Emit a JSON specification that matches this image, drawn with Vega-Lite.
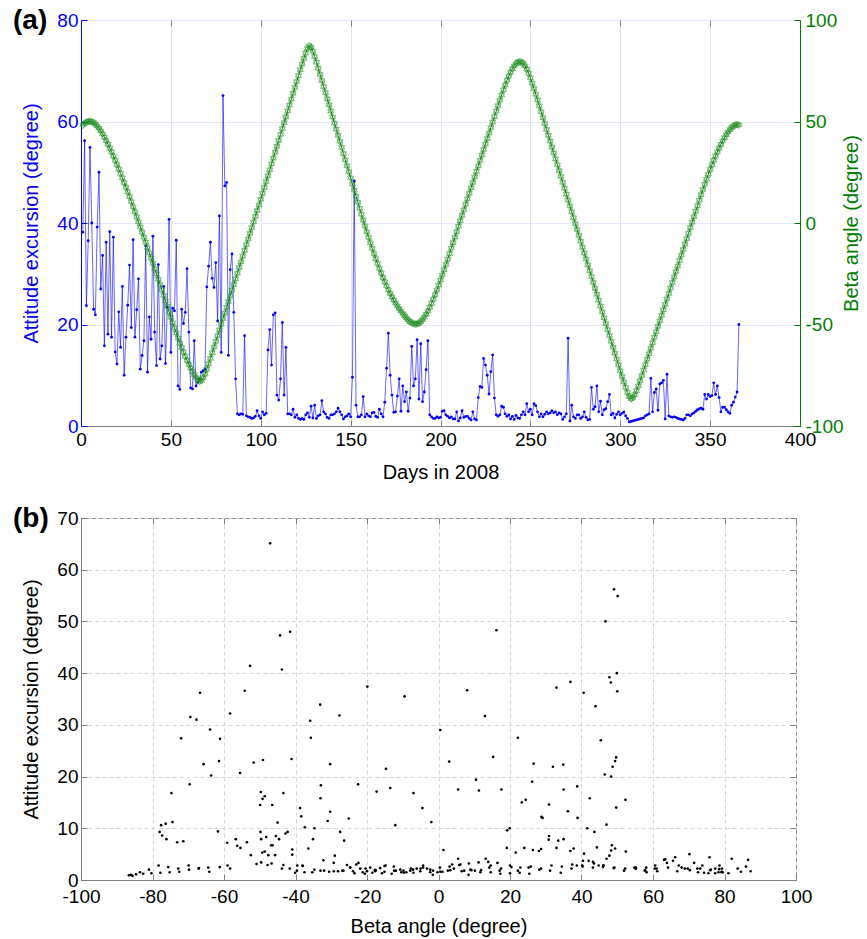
{
"$schema": "https://vega.github.io/schema/vega-lite/v6.json",
"background": "white",
"padding": {"left": 12, "top": 6, "right": 0, "bottom": 0},
"spacing": 21,
"data": {"values": [
{"d":1,"e":38.2,"b":48.2},{"d":2,"e":56.2,"b":49.1},{"d":3,"e":23.7,"b":49.7},{"d":4,"e":36.5,"b":50.0},{"d":5,"e":54.9,"b":50.1},{"d":6,"e":40.0,"b":49.9},{"d":7,"e":23.0,"b":49.4},{"d":8,"e":21.9,"b":48.7},{"d":9,"e":39.2,"b":47.8},{"d":10,"e":50.0,"b":46.7},
{"d":11,"e":27.0,"b":45.4},{"d":12,"e":33.6,"b":43.9},{"d":13,"e":15.8,"b":42.3},{"d":14,"e":36.2,"b":40.6},{"d":15,"e":18.1,"b":38.8},{"d":16,"e":38.3,"b":36.9},{"d":17,"e":17.5,"b":35.0},{"d":18,"e":37.2,"b":33.0},{"d":19,"e":14.6,"b":30.9},{"d":20,"e":12.2,"b":28.8},
{"d":21,"e":22.5,"b":26.6},{"d":22,"e":15.5,"b":24.4},{"d":23,"e":27.5,"b":22.2},{"d":24,"e":10.0,"b":19.9},{"d":25,"e":17.5,"b":17.6},{"d":26,"e":23.8,"b":15.3},{"d":27,"e":31.7,"b":13.0},{"d":28,"e":19.4,"b":10.5},{"d":29,"e":36.7,"b":8.0},{"d":30,"e":17.5,"b":5.5},
{"d":31,"e":22.9,"b":3.0},{"d":32,"e":29.0,"b":0.5},{"d":33,"e":11.2,"b":-2.0},{"d":34,"e":13.9,"b":-4.5},{"d":35,"e":16.8,"b":-7.0},{"d":36,"e":35.5,"b":-9.5},{"d":37,"e":10.6,"b":-12.1},{"d":38,"e":21.5,"b":-14.7},{"d":39,"e":17.1,"b":-17.3},{"d":40,"e":37.4,"b":-19.9},
{"d":41,"e":18.5,"b":-22.5},{"d":42,"e":11.9,"b":-25.1},{"d":43,"e":31.8,"b":-27.7},{"d":44,"e":13.2,"b":-30.3},{"d":45,"e":15.8,"b":-33.0},{"d":46,"e":27.5,"b":-35.7},{"d":47,"e":12.3,"b":-38.4},{"d":48,"e":23.4,"b":-41.1},{"d":49,"e":40.7,"b":-43.8},{"d":50,"e":14.5,"b":-46.5},
{"d":51,"e":23.2,"b":-49.1},{"d":52,"e":22.7,"b":-51.7},{"d":53,"e":36.6,"b":-54.2},{"d":54,"e":7.9,"b":-56.7},{"d":55,"e":7.2,"b":-59.1},{"d":56,"e":23.0,"b":-61.4},{"d":57,"e":20.2,"b":-63.6},{"d":58,"e":22.4,"b":-65.7},{"d":59,"e":31.0,"b":-67.7},{"d":60,"e":18.5,"b":-69.6},
{"d":61,"e":7.5,"b":-71.4},{"d":62,"e":7.3,"b":-73.1},{"d":63,"e":16.8,"b":-74.7},{"d":64,"e":7.9,"b":-76.1},{"d":65,"e":8.6,"b":-77.3},{"d":66,"e":9.3,"b":-78.0},{"d":67,"e":10.6,"b":-77.6},{"d":68,"e":10.9,"b":-76.3},{"d":69,"e":11.2,"b":-74.4},{"d":70,"e":27.4,"b":-72.0},
{"d":71,"e":31.5,"b":-69.4},{"d":72,"e":36.2,"b":-66.7},{"d":73,"e":29.1,"b":-63.9},{"d":74,"e":27.3,"b":-61.1},{"d":75,"e":32.2,"b":-58.3},{"d":76,"e":20.7,"b":-55.5},{"d":77,"e":41.4,"b":-52.7},{"d":78,"e":14.5,"b":-49.9},{"d":79,"e":65.1,"b":-47.1},{"d":80,"e":47.3,"b":-44.3},
{"d":81,"e":48.0,"b":-41.5},{"d":82,"e":13.9,"b":-38.7},{"d":83,"e":30.8,"b":-35.9},{"d":84,"e":33.9,"b":-33.1},{"d":85,"e":22.4,"b":-30.3},{"d":86,"e":9.3,"b":-27.5},{"d":87,"e":2.4,"b":-24.7},{"d":88,"e":2.2,"b":-21.9},{"d":89,"e":2.4,"b":-19.1},{"d":90,"e":2.3,"b":-16.3},
{"d":91,"e":17.8,"b":-13.5},{"d":92,"e":2.0,"b":-10.7},{"d":93,"e":1.8,"b":-7.9},{"d":94,"e":1.7,"b":-5.1},{"d":95,"e":1.5,"b":-2.3},{"d":96,"e":1.6,"b":0.5},{"d":97,"e":1.9,"b":3.3},{"d":98,"e":3.0,"b":6.1},{"d":99,"e":2.0,"b":8.9},{"d":100,"e":1.5,"b":11.7},
{"d":101,"e":2.8,"b":14.6},{"d":102,"e":2.2,"b":17.5},{"d":103,"e":2.5,"b":20.4},{"d":104,"e":15.0,"b":23.3},{"d":105,"e":19.0,"b":26.2},{"d":106,"e":12.0,"b":29.1},{"d":107,"e":21.9,"b":32.0},{"d":108,"e":22.3,"b":34.9},{"d":109,"e":6.1,"b":37.8},{"d":110,"e":5.1,"b":40.7},
{"d":111,"e":9.3,"b":43.6},{"d":112,"e":20.4,"b":46.5},{"d":113,"e":6.1,"b":49.4},{"d":114,"e":15.5,"b":52.3},{"d":115,"e":2.4,"b":55.2},{"d":116,"e":2.4,"b":58.1},{"d":117,"e":2.2,"b":61.0},{"d":118,"e":3.3,"b":63.9},{"d":119,"e":1.7,"b":66.8},{"d":120,"e":2.2,"b":69.7},
{"d":121,"e":1.5,"b":72.6},{"d":122,"e":1.3,"b":75.5},{"d":123,"e":1.5,"b":78.3},{"d":124,"e":1.3,"b":81.1},{"d":125,"e":2.2,"b":83.7},{"d":126,"e":2.6,"b":86.0},{"d":127,"e":1.7,"b":87.3},{"d":128,"e":3.9,"b":86.6},{"d":129,"e":1.6,"b":84.6},{"d":130,"e":4.1,"b":82.0},
{"d":131,"e":1.5,"b":79.2},{"d":132,"e":2.0,"b":76.2},{"d":133,"e":2.2,"b":73.2},{"d":134,"e":5.0,"b":70.2},{"d":135,"e":2.8,"b":67.2},{"d":136,"e":2.4,"b":64.2},{"d":137,"e":1.7,"b":61.2},{"d":138,"e":1.5,"b":58.2},{"d":139,"e":2.2,"b":55.2},{"d":140,"e":2.2,"b":52.2},
{"d":141,"e":2.4,"b":49.2},{"d":142,"e":2.8,"b":46.2},{"d":143,"e":3.5,"b":43.2},{"d":144,"e":2.8,"b":40.2},{"d":145,"e":2.2,"b":37.2},{"d":146,"e":1.4,"b":34.2},{"d":147,"e":1.8,"b":31.2},{"d":148,"e":2.0,"b":28.2},{"d":149,"e":2.4,"b":25.2},{"d":150,"e":1.8,"b":22.2},
{"d":151,"e":9.6,"b":19.2},{"d":152,"e":48.3,"b":16.2},{"d":153,"e":4.1,"b":13.2},{"d":154,"e":1.8,"b":10.2},{"d":155,"e":1.8,"b":7.2},{"d":156,"e":2.2,"b":4.3},{"d":157,"e":5.8,"b":1.4},{"d":158,"e":1.8,"b":-1.5},{"d":159,"e":2.4,"b":-4.3},{"d":160,"e":2.0,"b":-7.1},
{"d":161,"e":1.8,"b":-9.8},{"d":162,"e":2.6,"b":-12.5},{"d":163,"e":2.7,"b":-15.1},{"d":164,"e":1.9,"b":-17.6},{"d":165,"e":1.7,"b":-20.0},{"d":166,"e":3.3,"b":-22.4},{"d":167,"e":2.4,"b":-24.7},{"d":168,"e":1.8,"b":-26.9},{"d":169,"e":4.7,"b":-29.0},{"d":170,"e":11.4,"b":-31.0},
{"d":171,"e":18.3,"b":-32.9},{"d":172,"e":10.0,"b":-34.7},{"d":173,"e":6.1,"b":-36.4},{"d":174,"e":2.7,"b":-38.0},{"d":175,"e":2.8,"b":-39.5},{"d":176,"e":5.9,"b":-40.9},{"d":177,"e":9.3,"b":-42.2},{"d":178,"e":2.9,"b":-43.4},{"d":179,"e":7.9,"b":-44.6},{"d":180,"e":4.8,"b":-45.7},
{"d":181,"e":6.7,"b":-46.8},{"d":182,"e":2.9,"b":-47.8},{"d":183,"e":5.5,"b":-48.6},{"d":184,"e":15.7,"b":-49.2},{"d":185,"e":7.9,"b":-49.6},{"d":186,"e":9.3,"b":-49.8},{"d":187,"e":17.0,"b":-49.7},{"d":188,"e":5.3,"b":-49.3},{"d":189,"e":16.2,"b":-48.6},{"d":190,"e":4.8,"b":-47.6},
{"d":191,"e":6.7,"b":-46.4},{"d":192,"e":11.1,"b":-45.0},{"d":193,"e":16.8,"b":-43.4},{"d":194,"e":2.2,"b":-41.6},{"d":195,"e":1.8,"b":-39.6},{"d":196,"e":1.5,"b":-37.5},{"d":197,"e":1.5,"b":-35.3},{"d":198,"e":1.8,"b":-33.0},{"d":199,"e":1.6,"b":-30.6},{"d":200,"e":1.7,"b":-28.1},
{"d":201,"e":2.9,"b":-25.6},{"d":202,"e":3.0,"b":-23.0},{"d":203,"e":2.2,"b":-20.4},{"d":204,"e":1.9,"b":-17.8},{"d":205,"e":1.6,"b":-15.1},{"d":206,"e":1.8,"b":-12.4},{"d":207,"e":1.4,"b":-9.7},{"d":208,"e":1.4,"b":-7.0},{"d":209,"e":2.8,"b":-4.3},{"d":210,"e":1.0,"b":-1.6},
{"d":211,"e":1.6,"b":1.1},{"d":212,"e":3.0,"b":3.8},{"d":213,"e":1.7,"b":6.5},{"d":214,"e":1.9,"b":9.2},{"d":215,"e":1.9,"b":11.9},{"d":216,"e":1.5,"b":14.6},{"d":217,"e":1.2,"b":17.3},{"d":218,"e":2.8,"b":20.0},{"d":219,"e":1.4,"b":22.7},{"d":220,"e":1.2,"b":25.4},
{"d":221,"e":5.6,"b":28.1},{"d":222,"e":7.8,"b":30.8},{"d":223,"e":7.6,"b":33.5},{"d":224,"e":13.3,"b":36.2},{"d":225,"e":12.0,"b":38.9},{"d":226,"e":10.0,"b":41.6},{"d":227,"e":6.3,"b":44.3},{"d":228,"e":10.7,"b":47.0},{"d":229,"e":14.0,"b":49.7},{"d":230,"e":5.5,"b":52.4},
{"d":231,"e":2.2,"b":55.1},{"d":232,"e":1.9,"b":57.8},{"d":233,"e":2.2,"b":60.5},{"d":234,"e":3.9,"b":63.1},{"d":235,"e":3.7,"b":65.6},{"d":236,"e":2.4,"b":68.0},{"d":237,"e":1.9,"b":70.3},{"d":238,"e":2.2,"b":72.4},{"d":239,"e":1.4,"b":74.3},{"d":240,"e":1.9,"b":76.0},
{"d":241,"e":1.3,"b":77.4},{"d":242,"e":2.1,"b":78.5},{"d":243,"e":1.6,"b":79.2},{"d":244,"e":1.5,"b":79.5},{"d":245,"e":2.2,"b":79.3},{"d":246,"e":2.8,"b":78.6},{"d":247,"e":2.2,"b":77.4},{"d":248,"e":4.4,"b":75.8},{"d":249,"e":2.8,"b":73.8},{"d":250,"e":3.3,"b":71.5},
{"d":251,"e":2.2,"b":68.9},{"d":252,"e":4.4,"b":66.2},{"d":253,"e":4.0,"b":63.4},{"d":254,"e":2.8,"b":60.6},{"d":255,"e":1.8,"b":57.7},{"d":256,"e":2.4,"b":54.8},{"d":257,"e":1.8,"b":51.9},{"d":258,"e":2.3,"b":49.0},{"d":259,"e":2.8,"b":46.1},{"d":260,"e":2.4,"b":43.2},
{"d":261,"e":2.6,"b":40.3},{"d":262,"e":3.0,"b":37.4},{"d":263,"e":2.6,"b":34.5},{"d":264,"e":2.8,"b":31.6},{"d":265,"e":2.2,"b":28.7},{"d":266,"e":2.6,"b":25.8},{"d":267,"e":2.4,"b":22.9},{"d":268,"e":1.3,"b":20.0},{"d":269,"e":1.8,"b":17.1},{"d":270,"e":2.4,"b":14.2},
{"d":271,"e":17.3,"b":11.3},{"d":272,"e":1.0,"b":8.4},{"d":273,"e":4.1,"b":5.5},{"d":274,"e":1.8,"b":2.6},{"d":275,"e":1.5,"b":-0.3},{"d":276,"e":2.2,"b":-3.2},{"d":277,"e":2.2,"b":-6.1},{"d":278,"e":1.5,"b":-9.0},{"d":279,"e":1.8,"b":-11.9},{"d":280,"e":2.8,"b":-14.8},
{"d":281,"e":1.7,"b":-17.7},{"d":282,"e":1.2,"b":-20.6},{"d":283,"e":1.3,"b":-23.5},{"d":284,"e":7.6,"b":-26.4},{"d":285,"e":3.3,"b":-29.3},{"d":286,"e":3.8,"b":-32.2},{"d":287,"e":7.9,"b":-35.1},{"d":288,"e":2.8,"b":-38.0},{"d":289,"e":4.9,"b":-40.9},{"d":290,"e":2.2,"b":-43.8},
{"d":291,"e":3.2,"b":-46.7},{"d":292,"e":3.4,"b":-49.6},{"d":293,"e":4.8,"b":-52.5},{"d":294,"e":6.2,"b":-55.4},{"d":295,"e":2.2,"b":-58.3},{"d":296,"e":2.5,"b":-61.2},{"d":297,"e":1.6,"b":-64.1},{"d":298,"e":2.3,"b":-67.0},{"d":299,"e":2.8,"b":-69.9},{"d":300,"e":2.2,"b":-72.8},
{"d":301,"e":2.5,"b":-75.6},{"d":302,"e":2.8,"b":-78.3},{"d":303,"e":2.0,"b":-81.0},{"d":304,"e":1.5,"b":-83.5},{"d":305,"e":0.8,"b":-85.6},{"d":306,"e":0.9,"b":-86.6},{"d":307,"e":1.0,"b":-86.0},{"d":308,"e":1.1,"b":-84.6},{"d":309,"e":1.2,"b":-82.6},{"d":310,"e":1.3,"b":-80.3},
{"d":311,"e":1.4,"b":-77.8},{"d":312,"e":1.5,"b":-75.2},{"d":313,"e":1.6,"b":-72.5},{"d":314,"e":2.0,"b":-69.8},{"d":315,"e":2.2,"b":-67.1},{"d":316,"e":2.4,"b":-64.4},{"d":317,"e":9.4,"b":-61.7},{"d":318,"e":2.8,"b":-59.0},{"d":319,"e":6.6,"b":-56.3},{"d":320,"e":7.3,"b":-53.6},
{"d":321,"e":3.1,"b":-50.9},{"d":322,"e":8.3,"b":-48.2},{"d":323,"e":8.5,"b":-45.5},{"d":324,"e":9.0,"b":-42.8},{"d":325,"e":1.4,"b":-40.1},{"d":326,"e":10.2,"b":-37.4},{"d":327,"e":2.0,"b":-34.7},{"d":328,"e":1.8,"b":-32.0},{"d":329,"e":1.7,"b":-29.3},{"d":330,"e":1.8,"b":-26.6},
{"d":331,"e":1.7,"b":-23.9},{"d":332,"e":1.5,"b":-21.2},{"d":333,"e":1.4,"b":-18.5},{"d":334,"e":1.3,"b":-15.8},{"d":335,"e":1.2,"b":-13.1},{"d":336,"e":1.5,"b":-10.4},{"d":337,"e":2.2,"b":-7.7},{"d":338,"e":2.2,"b":-5.0},{"d":339,"e":2.0,"b":-2.3},{"d":340,"e":2.4,"b":0.4},
{"d":341,"e":2.6,"b":3.1},{"d":342,"e":2.9,"b":5.8},{"d":343,"e":3.2,"b":8.5},{"d":344,"e":3.4,"b":11.2},{"d":345,"e":3.5,"b":13.9},{"d":346,"e":3.3,"b":16.5},{"d":347,"e":6.2,"b":19.1},{"d":348,"e":5.3,"b":21.6},{"d":349,"e":6.2,"b":24.0},{"d":350,"e":5.8,"b":26.4},
{"d":351,"e":6.0,"b":28.7},{"d":352,"e":8.5,"b":30.9},{"d":353,"e":6.2,"b":33.0},{"d":354,"e":7.9,"b":35.0},{"d":355,"e":5.6,"b":36.9},{"d":356,"e":2.8,"b":38.7},{"d":357,"e":3.7,"b":40.4},{"d":358,"e":3.7,"b":42.0},{"d":359,"e":3.2,"b":43.5},{"d":360,"e":2.8,"b":44.8},
{"d":361,"e":2.5,"b":46.0},{"d":362,"e":4.1,"b":47.0},{"d":363,"e":4.7,"b":47.8},{"d":364,"e":5.7,"b":48.3},{"d":365,"e":6.7,"b":48.5},{"d":366,"e":20.0,"b":48.3}
]},
"vconcat": [
{
"width": 719, "height": 406,
"title": {"text": "(a)", "anchor": "start", "frame": "group", "orient": "top", "offset": -38, "baseline": "middle", "dx": -68, "fontSize": 28, "fontWeight": "bold", "font": "Liberation Sans", "color": "#000"},
"layer": [
{
"encoding": {
"x": {"field": "d", "type": "quantitative", "scale": {"domain": [0, 400], "nice": false, "zero": false},
"axis": {"orient": "bottom", "values": [0,50,100,150,200,250,300,350,400], "title": "Days in 2008", "grid": true, "gridColor": "#e2e2e2", "labelPadding": 10, "titlePadding": 13, "domainColor": "#808080", "tickColor": "#808080"}},
"y": {"field": "e", "type": "quantitative", "scale": {"domain": [0, 80], "nice": false},
"axis": {"orient": "left", "values": [0,20,40,60,80], "title": "Attitude excursion (degree)", "grid": true, "gridColor": "#e6e6fa", "labelColor": "#0000ff", "titleColor": "#0000ff", "domainColor": "#0000ff", "tickColor": "#0000ff", "labelPadding": 9, "titlePadding": 15}}
},
"layer": [
{"mark": {"type": "line", "color": "#0000ff", "strokeWidth": 1, "opacity": 0.6}},
{"mark": {"type": "point", "filled": true, "color": "#0000ff", "size": 8, "opacity": 1}}
]
},
{
"encoding": {
"x": {"field": "d", "type": "quantitative", "scale": {"domain": [0, 400], "nice": false, "zero": false},
"axis": {"orient": "top", "values": [0,50,100,150,200,250,300,350,400], "labels": false, "title": null, "grid": false, "domain": false, "tickColor": "#808080"}},
"y": {"field": "b", "type": "quantitative", "scale": {"domain": [-100, 100], "nice": false},
"axis": {"orient": "right", "values": [-100,-50,0,50,100], "labelExpr": "datum.value < 0 ? '-' + abs(datum.value) : '' + datum.value", "title": "Beta angle (degree)", "titleAngle": 270, "grid": false, "labelColor": "#008000", "titleColor": "#008000", "domainColor": "#008000", "tickColor": "#008000", "labelPadding": 11, "titlePadding": 18}}
},
"layer": [
{"mark": {"type": "line", "color": "#008000", "strokeWidth": 1}},
{"mark": {"type": "point", "shape": "M0,-1L0.866,0.5L-0.866,0.5Z M0,1L0.866,-0.5L-0.866,-0.5Z", "filled": false, "color": "#1f8f1f", "size": 50, "strokeWidth": 0.8}}
]
}
],
"resolve": {"scale": {"y": "independent"}, "axis": {"x": "independent", "y": "independent"}}
},
{
"width": 715, "height": 362,
"title": {"text": "(b)", "anchor": "start", "frame": "group", "orient": "top", "offset": -38, "baseline": "middle", "dx": -68, "fontSize": 28, "fontWeight": "bold", "font": "Liberation Sans", "color": "#000"},
"layer": [
{"mark": {"type": "point", "filled": true, "color": "#000000", "size": 7, "opacity": 1},
"encoding": {
"x": {"field": "b", "type": "quantitative", "scale": {"domain": [-100, 100], "nice": false},
"axis": {"orient": "bottom", "values": [-100,-80,-60,-40,-20,0,20,40,60,80,100], "labelExpr": "datum.value < 0 ? '-' + abs(datum.value) : '' + datum.value", "title": "Beta angle (degree)", "grid": true, "gridColor": "#d6d6d6", "gridDash": [4, 3], "labelPadding": 13, "titlePadding": 10}},
"y": {"field": "e", "type": "quantitative", "scale": {"domain": [0, 70], "nice": false},
"axis": {"orient": "left", "values": [0,10,20,30,40,50,60,70], "title": "Attitude excursion (degree)", "grid": true, "gridColor": "#d6d6d6", "gridDash": [4, 3], "labelPadding": 9, "titlePadding": 15}}
}},
{"mark": {"type": "point", "opacity": 0},
"encoding": {
"x": {"field": "b", "type": "quantitative", "scale": {"domain": [-100, 100], "nice": false},
"axis": {"orient": "top", "values": [-100,-80,-60,-40,-20,0,20,40,60,80,100], "labels": false, "title": null, "grid": false, "domain": false}},
"y": {"field": "e", "type": "quantitative", "scale": {"domain": [0, 70], "nice": false},
"axis": {"orient": "right", "values": [0,10,20,30,40,50,60,70], "labels": false, "title": null, "grid": false, "domain": false}}
}}
],
"resolve": {"axis": {"x": "independent", "y": "independent"}}
}
],
"config": {
"font": "Liberation Sans",
"view": {"stroke": "#808080", "strokeWidth": 1},
"axis": {"labelFont": "Liberation Sans", "titleFont": "Liberation Sans", "labelFontSize": 19, "titleFontSize": 20, "titleFontWeight": "normal", "labelColor": "#000000", "titleColor": "#000000", "tickSize": -6, "tickColor": "#808080", "domainColor": "#808080", "labelOverlap": false, "labelFlush": false, "labelBound": false}
}
}
